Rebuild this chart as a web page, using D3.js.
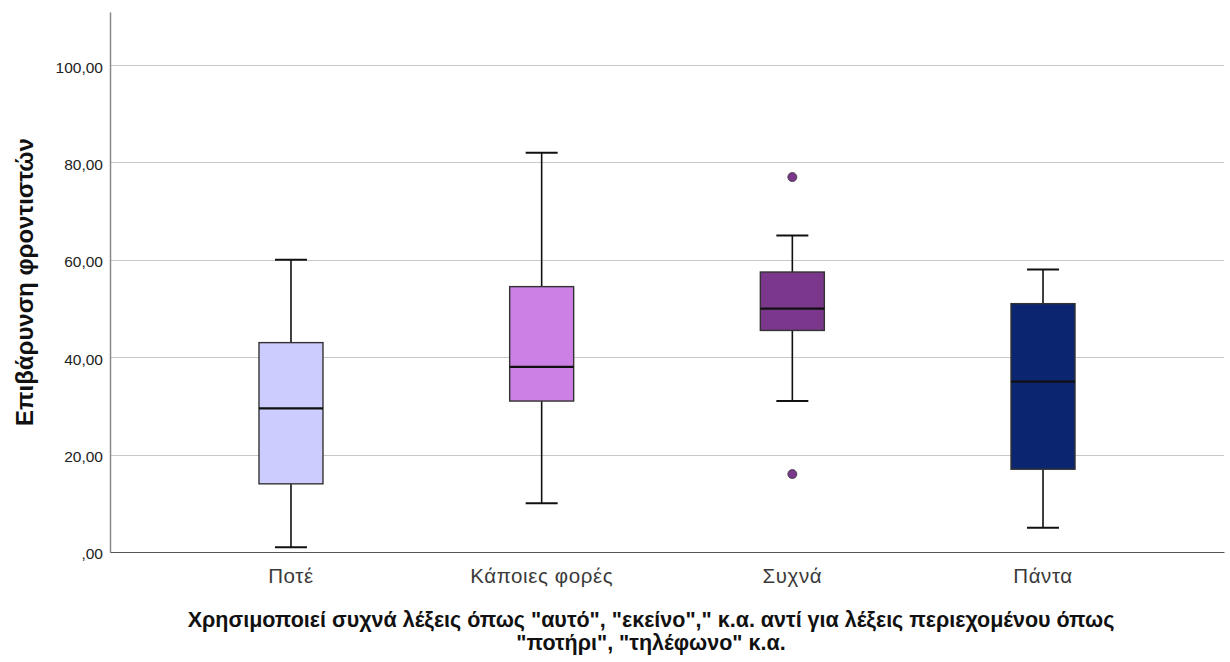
<!DOCTYPE html>
<html>
<head>
<meta charset="utf-8">
<script src="https://cdn.jsdelivr.net/npm/d3@7"></script>
<style>
  body { margin: 0; background: #fff; }
  svg text { font-family: "Liberation Sans", Arial, sans-serif; }
</style>
</head>
<body>
<div id="chart"></div>
<script>
const width = 1230;
const height = 662;

// categories and box statistics
const categories = ["Ποτέ", "Κάποιες φορές", "Συχνά", "Πάντα"];
const whiskerLow = [1, 10, 31, 5];
const q1 = [14, 31, 45.5, 17];
const median = [29.5, 38, 50, 35];
const q3 = [43, 54.5, 57.5, 51];
const whiskerHigh = [60, 82, 65, 58];
const outliers = [[], [], [77, 16], []];
const fills = ["#ccccff", "#cc80e6", "#7a378b", "#0b2570"];
const yTicks = [0, 20, 40, 60, 80, 100];
const xTitleLines = [
    "Χρησιμοποιεί συχνά λέξεις όπως \"αυτό\", \"εκείνο\",\" κ.α. αντί για λέξεις περιεχομένου όπως",
    "\"ποτήρι\", \"τηλέφωνο\" κ.α."
];
const yTitle = "Επιβάρυνση φροντιστών";

const margin = { top: 12, right: 6, bottom: 110, left: 110 };
const plotW = width - margin.left - margin.right;
const plotH = height - margin.top - margin.bottom;

const svg = d3.select("#chart")
    .append("svg")
    .attr("width", width)
    .attr("height", height);

const g = svg.append("g")
    .attr("transform", `translate(${margin.left},${margin.top})`);

const x = d3.scaleBand()
    .domain(categories)
    .range([0, plotW])
    .paddingOuter(0.222)
    .paddingInner(0);

const y = d3.scaleLinear()
    .domain([0, 110.9])
    .range([plotH, 0]);

const boxW = 64;
const capW = 32;

// gridlines
g.selectAll("line.grid")
    .data(yTicks.filter(d => d > 0))
    .join("line")
    .attr("class", "grid")
    .attr("x1", 0)
    .attr("x2", plotW)
    .attr("y1", d => Math.round(y(d)) + 0.5)
    .attr("y2", d => Math.round(y(d)) + 0.5)
    .attr("stroke", "#c8c8c8")
    .attr("stroke-width", 1.2);

// y axis
const yAxis = g.append("g")
    .call(d3.axisLeft(y)
        .tickValues(yTicks)
        .tickSize(0)
        .tickPadding(7)
        .tickFormat(d => d === 0 ? ",00" : d3.format(".2f")(d).replace(".", ",")));
yAxis.select(".domain").attr("stroke", "#888").attr("stroke-width", 1.5);
yAxis.selectAll("text")
    .attr("font-size", 15.5)
    .attr("dy", "0.45em")
    .attr("fill", "#222");

// x axis
const xAxis = g.append("g")
    .attr("transform", `translate(0,${plotH})`)
    .call(d3.axisBottom(x).tickSize(0).tickPadding(16));
xAxis.select(".domain").attr("stroke", "#555").attr("stroke-width", 1.2);
xAxis.selectAll("text")
    .attr("font-size", 20.5)
    .attr("letter-spacing", 0.6)
    .attr("fill", "#3a3a3a");

const boxes = categories.map((c, i) => ({
    cat: c, lo: whiskerLow[i], q1: q1[i], med: median[i], q3: q3[i], hi: whiskerHigh[i],
    out: outliers[i], fill: fills[i]
}));

const box = g.selectAll("g.box")
    .data(boxes)
    .join("g")
    .attr("class", "box")
    .attr("transform", d => `translate(${x(d.cat) + x.bandwidth() / 2},0)`);

// whiskers
box.append("line")
    .attr("x1", 0).attr("x2", 0)
    .attr("y1", d => y(d.hi)).attr("y2", d => y(d.q3))
    .attr("stroke", "#111").attr("stroke-width", 1.6);
box.append("line")
    .attr("x1", 0).attr("x2", 0)
    .attr("y1", d => y(d.q1)).attr("y2", d => y(d.lo))
    .attr("stroke", "#111").attr("stroke-width", 1.6);
box.append("line")
    .attr("x1", -capW / 2).attr("x2", capW / 2)
    .attr("y1", d => y(d.hi)).attr("y2", d => y(d.hi))
    .attr("stroke", "#111").attr("stroke-width", 2);
box.append("line")
    .attr("x1", -capW / 2).attr("x2", capW / 2)
    .attr("y1", d => y(d.lo)).attr("y2", d => y(d.lo))
    .attr("stroke", "#111").attr("stroke-width", 2);

// box
box.append("rect")
    .attr("x", -boxW / 2)
    .attr("width", boxW)
    .attr("y", d => y(d.q3))
    .attr("height", d => y(d.q1) - y(d.q3))
    .attr("fill", d => d.fill)
    .attr("stroke", "#333")
    .attr("stroke-width", 1.4);

// median
box.append("line")
    .attr("x1", -boxW / 2).attr("x2", boxW / 2)
    .attr("y1", d => y(d.med)).attr("y2", d => y(d.med))
    .attr("stroke", "#111").attr("stroke-width", 2.2);

// outliers
box.selectAll("circle")
    .data(d => d.out.map(v => ({ v, fill: d.fill })))
    .join("circle")
    .attr("cx", 0)
    .attr("cy", d => y(d.v))
    .attr("r", 4.5)
    .attr("fill", d => d.fill)
    .attr("stroke", "#333")
    .attr("stroke-width", 0.8);

// axis titles
svg.append("text")
    .attr("transform", `translate(33,${margin.top + plotH / 2}) rotate(-90)`)
    .attr("text-anchor", "middle")
    .attr("font-size", 24)
    .attr("font-weight", "bold")
    .attr("fill", "#111")
    .text(yTitle);

svg.append("text")
    .attr("text-anchor", "middle")
    .attr("font-size", 21.5)
    .attr("font-weight", "bold")
    .attr("fill", "#111")
    .selectAll("tspan")
    .data(xTitleLines)
    .join("tspan")
    .attr("x", 651)
    .attr("y", (d, i) => 627 + i * 23)
    .text(d => d);
</script>
</body>
</html>
